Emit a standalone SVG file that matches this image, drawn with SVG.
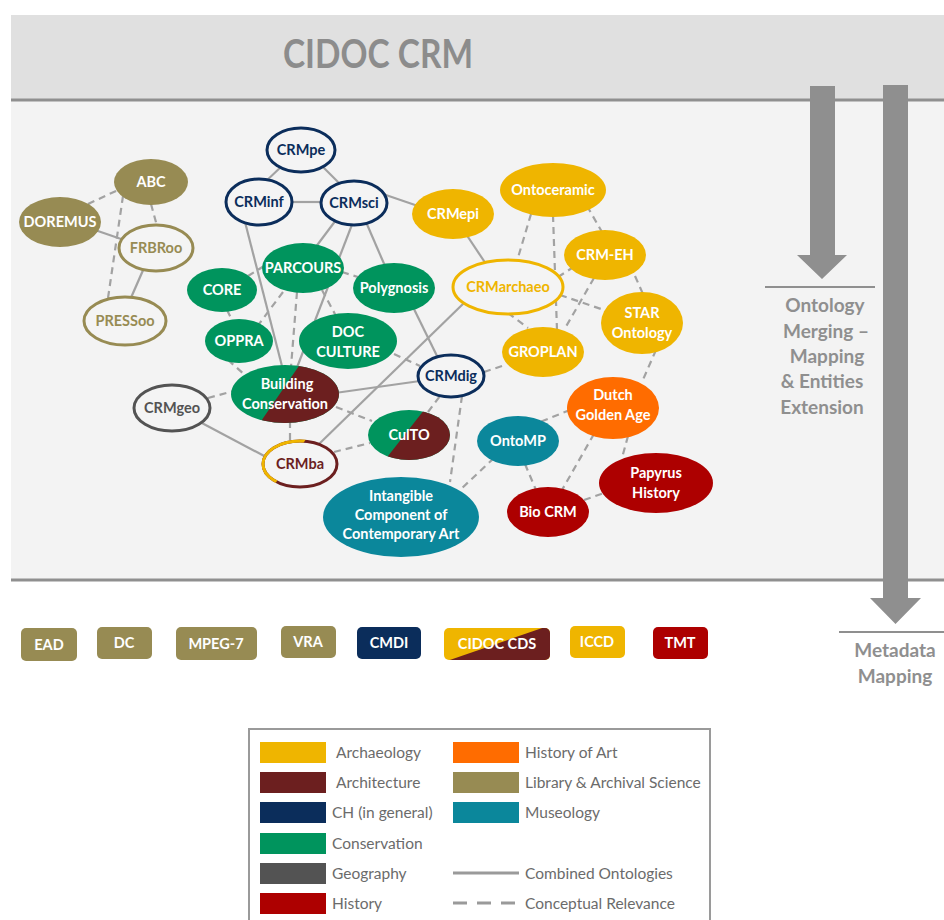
<svg xmlns="http://www.w3.org/2000/svg" width="944" height="920" viewBox="0 0 944 920">
  <defs>
    <style>
      .lbl{font-family:Lato,"Open Sans","DejaVu Sans",sans-serif;font-weight:700;font-size:14.5px;text-anchor:middle}
      .w{fill:#ffffff}
      .side{font-family:Lato,"Open Sans","DejaVu Sans",sans-serif;font-weight:700;font-size:19px;fill:#8f8f8f;text-anchor:middle}
      .leg{font-family:Lato,"Open Sans","DejaVu Sans",sans-serif;font-size:15.5px;fill:#6b6b6b}
      .c{stroke:#a2a2a2;stroke-width:2.2;fill:none}
      .d{stroke-dasharray:7 5}
      .ring{fill:#f4f4f4;stroke-width:3}
      .lib{fill:#978b53}
      .arch{fill:#efb500}
      .brn{fill:#6c1f1f}
      .navy{fill:#0b2d5b}
      .grn{fill:#00945d}
      .geo{fill:#535353}
      .hist{fill:#ad0000}
      .art{fill:#ff6c00}
      .mus{fill:#0b879b}
    </style>
    <clipPath id="clip-bc"><ellipse cx="285" cy="394" rx="54" ry="29"/></clipPath>
    <clipPath id="clip-culto"><ellipse cx="409" cy="435" rx="41" ry="25"/></clipPath>
    <clipPath id="clip-crmba-left"><polygon points="255,432 311,432 268,494 255,494"/></clipPath>
    <clipPath id="clip-cds"><rect x="444" y="628" width="106" height="32" rx="5"/></clipPath>
  </defs>

  <rect x="0" y="0" width="944" height="920" fill="#ffffff"/>

  <!-- CIDOC CRM header band and ontology panel -->
  <rect x="11" y="15" width="933" height="85" fill="#e0e0e0"/>
  <rect x="11" y="101" width="933" height="478" fill="#f3f3f3"/>
  <line x1="11" y1="100" x2="944" y2="100" stroke="#8f8f8f" stroke-width="3"/>
  <line x1="11" y1="580" x2="944" y2="580" stroke="#8f8f8f" stroke-width="3"/>
  <text x="283" y="68" font-family="Lato,'Open Sans',sans-serif" font-weight="700" font-size="40" fill="#8c8c8c" textLength="190" lengthAdjust="spacingAndGlyphs">CIDOC CRM</text>

  <!-- process arrows -->
  <polygon points="810,86 835,86 835,255 847,255 822,279 797,255 810,255" fill="#8f8f8f"/>
  <polygon points="883,85 908,85 908,598 921,598 895.5,624 870,598 883,598" fill="#8f8f8f"/>
  <line x1="765" y1="287" x2="875" y2="287" stroke="#8f8f8f" stroke-width="2"/>
  <line x1="839" y1="632" x2="944" y2="632" stroke="#8f8f8f" stroke-width="2"/>
  <text class="side" x="825" y="312">Ontology</text>
  <text class="side" x="826" y="338">Merging –</text>
  <text class="side" x="827" y="363">Mapping</text>
  <text class="side" x="822" y="388">&amp; Entities</text>
  <text class="side" x="822" y="414">Extension</text>
  <text class="side" x="895" y="657">Metadata</text>
  <text class="side" x="895" y="683">Mapping</text>

  <!-- connectors -->
  <g id="connectors">
    <line class="c" x1="95" y1="230" x2="124" y2="240"/>
    <line class="c" x1="144" y1="268" x2="130" y2="300"/>
    <line class="c" x1="282" y1="166" x2="264" y2="183"/>
    <line class="c" x1="322" y1="166" x2="340" y2="184"/>
    <line class="c" x1="290" y1="202" x2="322" y2="202"/>
    <line class="c" x1="380" y1="193" x2="418" y2="206"/>
    <line class="c" x1="336" y1="220" x2="315" y2="248"/>
    <line class="c" x1="353" y1="222" x2="296" y2="370"/>
    <line class="c" x1="366" y1="222" x2="385" y2="266"/>
    <line class="c" x1="245" y1="222" x2="283" y2="370"/>
    <line class="c" x1="412" y1="305" x2="438" y2="358"/>
    <line class="c" x1="200" y1="422" x2="268" y2="458"/>
    <line class="c" x1="335" y1="393" x2="420" y2="381"/>
    <line class="c" x1="318" y1="445" x2="465" y2="302"/>
    <line class="c" x1="466" y1="234" x2="486" y2="264"/>

    <line class="c d" x1="88" y1="204" x2="118" y2="190"/>
    <line class="c d" x1="151" y1="204" x2="157" y2="226"/>
    <line class="c d" x1="123" y1="196" x2="108" y2="298"/>
    <line class="c d" x1="264" y1="266" x2="248" y2="276"/>
    <line class="c d" x1="342" y1="272" x2="358" y2="277"/>
    <line class="c d" x1="283" y1="292" x2="259" y2="324"/>
    <line class="c d" x1="297" y1="292" x2="291" y2="367"/>
    <line class="c d" x1="322" y1="290" x2="336" y2="316"/>
    <line class="c d" x1="227" y1="310" x2="233" y2="322"/>
    <line class="c d" x1="228" y1="360" x2="245" y2="375"/>
    <line class="c d" x1="208" y1="398" x2="234" y2="391"/>
    <line class="c d" x1="290" y1="421" x2="290" y2="442"/>
    <line class="c d" x1="336" y1="407" x2="372" y2="421"/>
    <line class="c d" x1="334" y1="452" x2="370" y2="443"/>
    <line class="c d" x1="428" y1="412" x2="440" y2="396"/>
    <line class="c d" x1="462" y1="396" x2="450" y2="482"/>
    <line class="c d" x1="394" y1="354" x2="420" y2="366"/>
    <line class="c d" x1="484" y1="372" x2="505" y2="365"/>
    <line class="c d" x1="531" y1="214" x2="517" y2="261"/>
    <line class="c d" x1="553" y1="215" x2="557" y2="330"/>
    <line class="c d" x1="587" y1="206" x2="602" y2="232"/>
    <line class="c d" x1="558" y1="277" x2="572" y2="268"/>
    <line class="c d" x1="560" y1="295" x2="604" y2="310"/>
    <line class="c d" x1="508" y1="313" x2="528" y2="328"/>
    <line class="c d" x1="594" y1="278" x2="564" y2="330"/>
    <line class="c d" x1="635" y1="276" x2="643" y2="294"/>
    <line class="c d" x1="656" y1="350" x2="642" y2="382"/>
    <line class="c d" x1="570" y1="410" x2="540" y2="422"/>
    <line class="c d" x1="594" y1="434" x2="562" y2="490"/>
    <line class="c d" x1="628" y1="436" x2="622" y2="458"/>
    <line class="c d" x1="525" y1="464" x2="536" y2="490"/>
    <line class="c d" x1="494" y1="458" x2="460" y2="490"/>
    <line class="c d" x1="584" y1="500" x2="604" y2="493"/>
  </g>

  <!-- Library & Archival Science -->
  <g id="abc"><ellipse class="lib" cx="151" cy="182" rx="37" ry="23"/><text class="lbl w" x="151" y="187">ABC</text></g>
  <g id="doremus"><ellipse class="lib" cx="60" cy="222" rx="41" ry="25"/><text class="lbl w" x="60" y="227">DOREMUS</text></g>
  <g id="frbroo"><ellipse class="ring" stroke="#978b53" cx="156" cy="248" rx="37" ry="23"/><text class="lbl" fill="#978b53" x="156" y="253">FRBRoo</text></g>
  <g id="pressoo"><ellipse class="ring" stroke="#978b53" cx="125" cy="321" rx="41" ry="24"/><text class="lbl" fill="#978b53" x="125" y="326">PRESSoo</text></g>

  <!-- CH (in general) -->
  <g id="crmpe"><ellipse class="ring" stroke="#0b2d5b" cx="301" cy="150" rx="34" ry="22"/><text class="lbl" fill="#0b2d5b" x="301" y="155">CRMpe</text></g>
  <g id="crminf"><ellipse class="ring" stroke="#0b2d5b" cx="259" cy="202" rx="33" ry="23"/><text class="lbl" fill="#0b2d5b" x="259" y="207">CRMinf</text></g>
  <g id="crmsci"><ellipse class="ring" stroke="#0b2d5b" cx="354" cy="203" rx="33" ry="22"/><text class="lbl" fill="#0b2d5b" x="354" y="208">CRMsci</text></g>
  <g id="crmdig"><ellipse class="ring" stroke="#0b2d5b" cx="451" cy="376" rx="33" ry="21"/><text class="lbl" fill="#0b2d5b" x="451" y="381">CRMdig</text></g>

  <!-- Conservation -->
  <g id="parcours"><ellipse class="grn" cx="303" cy="268" rx="41" ry="25"/><text class="lbl w" x="303" y="273">PARCOURS</text></g>
  <g id="core"><ellipse class="grn" cx="222" cy="290" rx="35" ry="22"/><text class="lbl w" x="222" y="295">CORE</text></g>
  <g id="polygnosis"><ellipse class="grn" cx="394" cy="288" rx="41" ry="25"/><text class="lbl w" x="394" y="293">Polygnosis</text></g>
  <g id="oppra"><ellipse class="grn" cx="239" cy="341" rx="34" ry="22"/><text class="lbl w" x="239" y="346">OPPRA</text></g>
  <g id="doc-culture"><ellipse class="grn" cx="348" cy="341" rx="49" ry="28"/><text class="lbl w" x="348" y="337">DOC</text><text class="lbl w" x="348" y="357">CULTURE</text></g>

  <!-- Conservation / Architecture -->
  <g id="building-conservation">
    <ellipse class="grn" cx="285" cy="394" rx="54" ry="29"/>
    <polygon class="brn" clip-path="url(#clip-bc)" points="303,360 345,360 345,430 255,430"/>
    <text class="lbl w" x="287" y="389">Building</text><text class="lbl w" x="285" y="409">Conservation</text>
  </g>
  <g id="culto">
    <ellipse class="grn" cx="409" cy="435" rx="41" ry="25"/>
    <polygon class="brn" clip-path="url(#clip-culto)" points="428,405 455,405 455,465 381,465"/>
    <text class="lbl w" x="409" y="440">CulTO</text>
  </g>

  <!-- Geography -->
  <g id="crmgeo"><ellipse class="ring" stroke="#535353" cx="172" cy="408" rx="38" ry="23"/><text class="lbl" fill="#535353" x="172" y="413">CRMgeo</text></g>

  <!-- Architecture / Archaeology -->
  <g id="crmba">
    <ellipse class="ring" stroke="#6c1f1f" cx="300" cy="464" rx="37" ry="23"/>
    <ellipse fill="none" stroke="#efb500" stroke-width="3" clip-path="url(#clip-crmba-left)" cx="300" cy="464" rx="37" ry="23"/>
    <text class="lbl" fill="#6c1f1f" x="300" y="469">CRMba</text>
  </g>

  <!-- Archaeology -->
  <g id="crmepi"><ellipse class="arch" cx="453" cy="214" rx="41" ry="25"/><text class="lbl w" x="453" y="219">CRMepi</text></g>
  <g id="ontoceramic"><ellipse class="arch" cx="553" cy="190" rx="53" ry="27"/><text class="lbl w" x="553" y="195">Ontoceramic</text></g>
  <g id="crm-eh"><ellipse class="arch" cx="605" cy="255" rx="41" ry="25"/><text class="lbl w" x="605" y="260">CRM-EH</text></g>
  <g id="crmarchaeo"><ellipse class="ring" stroke="#efb500" cx="508" cy="287" rx="55" ry="27"/><text class="lbl" fill="#efb500" x="508" y="292">CRMarchaeo</text></g>
  <g id="star-ontology"><ellipse class="arch" cx="642" cy="323" rx="41" ry="31"/><text class="lbl w" x="642" y="318">STAR</text><text class="lbl w" x="642" y="338">Ontology</text></g>
  <g id="groplan"><ellipse class="arch" cx="543" cy="352" rx="41" ry="25"/><text class="lbl w" x="543" y="357">GROPLAN</text></g>

  <!-- History of Art -->
  <g id="dutch-golden-age"><ellipse class="art" cx="613" cy="408" rx="46" ry="31"/><text class="lbl w" x="613" y="400">Dutch</text><text class="lbl w" x="613" y="420">Golden Age</text></g>

  <!-- Museology -->
  <g id="ontomp"><ellipse class="mus" cx="518" cy="441" rx="41" ry="25"/><text class="lbl w" x="518" y="446">OntoMP</text></g>
  <g id="intangible"><ellipse class="mus" cx="401" cy="517" rx="78" ry="40"/><text class="lbl w" x="401" y="501">Intangible</text><text class="lbl w" x="401" y="520">Component of</text><text class="lbl w" x="401" y="539">Contemporary Art</text></g>

  <!-- History -->
  <g id="papyrus-history"><ellipse class="hist" cx="656" cy="483" rx="57" ry="30"/><text class="lbl w" x="656" y="478">Papyrus</text><text class="lbl w" x="656" y="498">History</text></g>
  <g id="bio-crm"><ellipse class="hist" cx="548" cy="512" rx="41" ry="25"/><text class="lbl w" x="548" y="517">Bio CRM</text></g>

  <!-- metadata standards -->
  <g id="ead"><rect class="lib" x="21" y="628" width="56" height="33" rx="5"/><text class="lbl w" x="49" y="650">EAD</text></g>
  <g id="dc"><rect class="lib" x="97" y="627" width="55" height="32" rx="5"/><text class="lbl w" x="124" y="648">DC</text></g>
  <g id="mpeg-7"><rect class="lib" x="176" y="627" width="81" height="33" rx="5"/><text class="lbl w" x="216" y="649">MPEG-7</text></g>
  <g id="vra"><rect class="lib" x="281" y="626" width="55" height="32" rx="5"/><text class="lbl w" x="308" y="647">VRA</text></g>
  <g id="cmdi"><rect class="navy" x="357" y="627" width="64" height="32" rx="5"/><text class="lbl w" x="389" y="648">CMDI</text></g>
  <g id="cidoc-cds">
    <rect class="arch" x="444" y="628" width="106" height="32" rx="5"/>
    <polygon class="brn" clip-path="url(#clip-cds)" points="548,626 552,626 552,662 444,662"/>
    <text class="lbl w" x="497" y="649">CIDOC CDS</text>
  </g>
  <g id="iccd"><rect class="arch" x="570" y="626" width="55" height="32" rx="5"/><text class="lbl w" x="597" y="647">ICCD</text></g>
  <g id="tmt"><rect class="hist" x="653" y="627" width="55" height="32" rx="5"/><text class="lbl w" x="680" y="648">TMT</text></g>

  <!-- legend -->
  <g id="legend">
    <rect x="249" y="729" width="461" height="200" fill="#ffffff" stroke="#9a9a9a" stroke-width="2"/>
    <rect class="arch" x="260" y="742" width="66" height="21"/>
    <rect class="brn" x="260" y="772" width="66" height="21"/>
    <rect class="navy" x="260" y="802" width="66" height="21"/>
    <rect class="grn" x="260" y="833" width="66" height="21"/>
    <rect class="geo" x="260" y="863" width="66" height="21"/>
    <rect class="hist" x="260" y="893" width="66" height="21"/>
    <rect class="art" x="453" y="742" width="66" height="21"/>
    <rect class="lib" x="453" y="772" width="66" height="21"/>
    <rect class="mus" x="453" y="802" width="66" height="21"/>
    <line x1="453" y1="873" x2="519" y2="873" stroke="#9a9a9a" stroke-width="3"/>
    <line x1="453" y1="903" x2="519" y2="903" stroke="#9a9a9a" stroke-width="3" stroke-dasharray="14 10"/>
    <text class="leg" x="336" y="758">Archaeology</text>
    <text class="leg" x="336" y="788">Architecture</text>
    <text class="leg" x="332" y="818">CH (in general)</text>
    <text class="leg" x="332" y="849">Conservation</text>
    <text class="leg" x="332" y="879">Geography</text>
    <text class="leg" x="332" y="909">History</text>
    <text class="leg" x="525" y="758">History of Art</text>
    <text class="leg" x="525" y="788">Library &amp; Archival Science</text>
    <text class="leg" x="525" y="818">Museology</text>
    <text class="leg" x="525" y="879">Combined Ontologies</text>
    <text class="leg" x="525" y="909">Conceptual Relevance</text>
  </g>
</svg>
